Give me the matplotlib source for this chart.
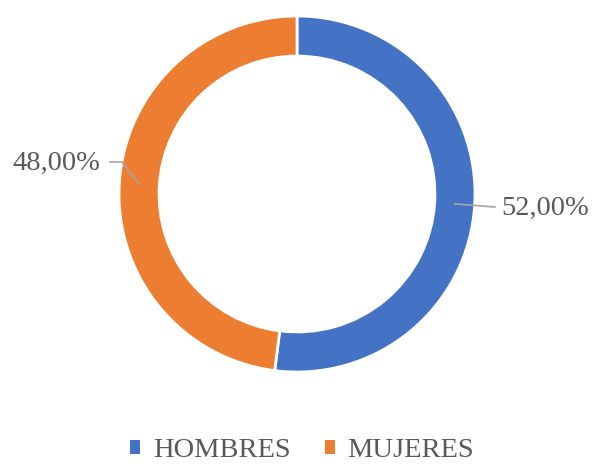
import numpy as np
import matplotlib.pyplot as plt

# datos
categorias = ["HOMBRES", "MUJERES"]
porcentajes = [52.0, 48.0]
colores = ["#4472C4", "#ED7D31"]

plt.rcParams['font.family'] = ['Liberation Serif', 'DejaVu Serif']

fig = plt.figure(figsize=(5.92, 4.68), dpi=100)
ax = fig.add_axes([119 / 592, 96 / 468, 356 / 592, 356 / 468])

wedges, _ = ax.pie(porcentajes, colors=colores, startangle=90, counterclock=False,
                   radius=1.0, wedgeprops=dict(width=0.225, edgecolor='white', linewidth=2))
ax.set_xlim(-1, 1)
ax.set_ylim(-1, 1)
ax.set_aspect('equal')
ax.axis('off')

# etiquetas con lineas guia
gris = "#A6A6A6"
texto = "#595959"
r_mid = 0.888
for w, p in zip(wedges, porcentajes):
    ang = np.deg2rad((w.theta1 + w.theta2) / 2)
    x0, y0 = r_mid * np.cos(ang), r_mid * np.sin(ang)
    etiqueta = "{:.2f}%".format(p).replace(".", ",")
    if x0 > 0:
        ax.plot([x0, 1.112], [y0, -0.073], color=gris, lw=1.2, clip_on=False)
        ax.text(1.15, -0.079, etiqueta, ha='left', va='center', fontsize=20.5, color=texto)
    else:
        ax.plot([x0, -0.983, -1.051], [y0, 0.18, 0.18], color=gris, lw=1.2, clip_on=False)
        ax.text(-1.107, 0.174, etiqueta, ha='right', va='center', fontsize=20.5, color=texto)

leg = fig.legend(wedges, categorias, loc='lower center', bbox_to_anchor=(0.51, -0.045), ncol=2,
                 frameon=False, fontsize=20.5, handlelength=0.36, handleheight=0.36,
                 handletextpad=0.45, columnspacing=1.2, labelcolor=texto)
for h in leg.legend_handles:
    h.set_edgecolor('none')

fig.savefig("out.png", dpi=100)
